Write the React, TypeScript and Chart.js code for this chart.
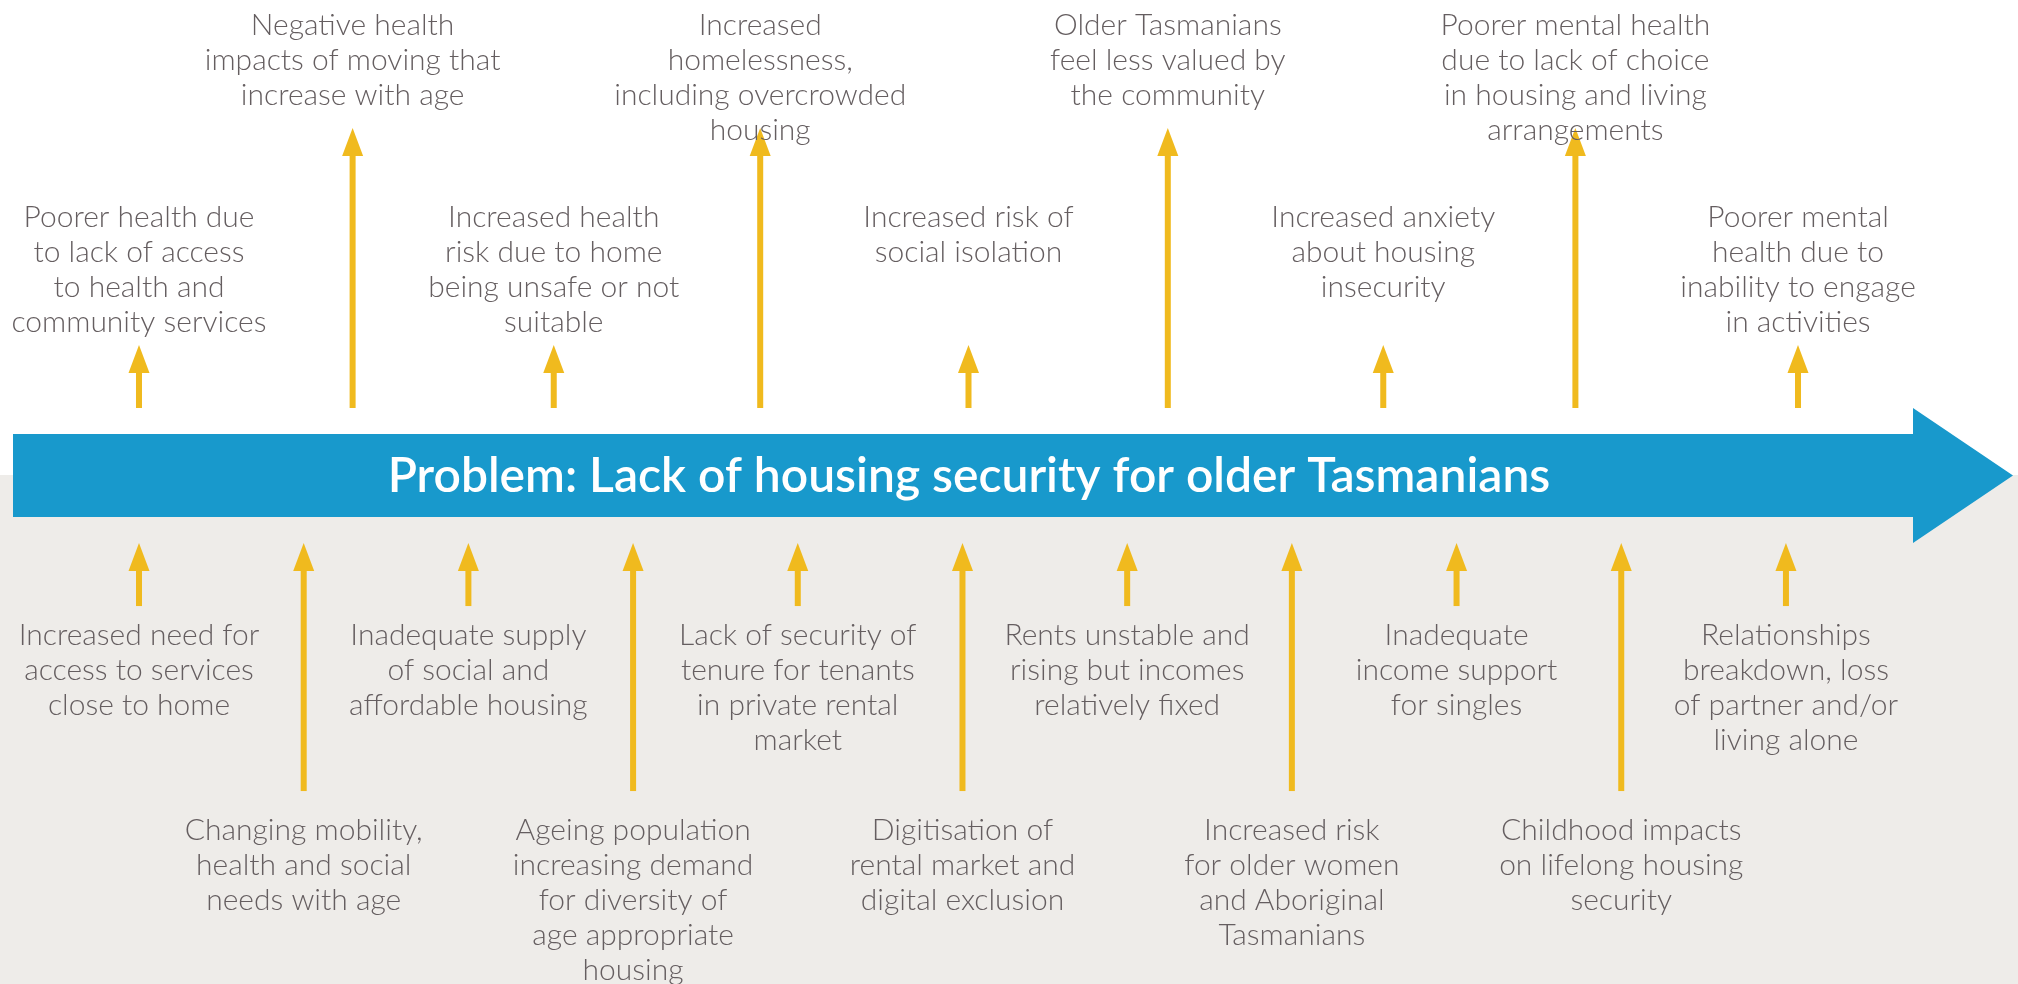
import React, { useEffect, useRef } from "react";
import { Chart, registerables } from "chart.js";

Chart.register(...registerables);

const TITLE = "Problem: Lack of housing security for older Tasmanians";

// Effects (above the problem arrow), left to right
const TOP_LABELS: string[][] = [
  ["Poorer health due", "to lack of access", "to health and", "community services"],
  ["Negative health", "impacts of moving that", "increase with age"],
  ["Increased health", "risk due to home", "being unsafe or not", "suitable"],
  ["Increased", "homelessness,", "including overcrowded", "housing"],
  ["Increased risk of", "social isolation"],
  ["Older Tasmanians", "feel less valued by", "the community"],
  ["Increased anxiety", "about housing", "insecurity"],
  ["Poorer mental health", "due to lack of choice", "in housing and living", "arrangements"],
  ["Poorer mental", "health due to", "inability to engage", "in activities"],
];
const TOP_TIERS = [1, 2, 1, 2, 1, 2, 1, 2, 1];

// Causes (below the problem arrow), left to right
const BOTTOM_LABELS: string[][] = [
  ["Increased need for", "access to services", "close to home"],
  ["Changing mobility,", "health and social", "needs with age"],
  ["Inadequate supply", "of social and", "affordable housing"],
  ["Ageing population", "increasing demand", "for diversity of", "age appropriate", "housing"],
  ["Lack of security of", "tenure for tenants", "in private rental", "market"],
  ["Digitisation of", "rental market and", "digital exclusion"],
  ["Rents unstable and", "rising but incomes", "relatively fixed"],
  ["Increased risk", "for older women", "and Aboriginal", "Tasmanians"],
  ["Inadequate", "income support", "for singles"],
  ["Childhood impacts", "on lifelong housing", "security"],
  ["Relationships", "breakdown, loss", "of partner and/or", "living alone"],
];
const BOTTOM_TIERS = [1, 2, 1, 2, 1, 2, 1, 2, 1, 2, 1];

const W = 2018;
const H = 984;

const BLUE = "#1899CC";
const YELLOW = "#F0BA1E";
const GREY_BG = "#EEECE9";
const TEXT = "#655E60";
const FONT = "300 30px Lato, 'Noto Sans', sans-serif";
const LINE_H = 35;

function drawArrow(ctx: CanvasRenderingContext2D, x: number, tipY: number, tailY: number) {
  const headH = 28;
  const headW = 21;
  const shaft = 6;
  ctx.fillStyle = YELLOW;
  ctx.fillRect(x - shaft / 2, tipY + headH - 1, shaft, tailY - (tipY + headH - 1));
  ctx.beginPath();
  ctx.moveTo(x, tipY);
  ctx.lineTo(x + headW / 2, tipY + headH);
  ctx.lineTo(x - headW / 2, tipY + headH);
  ctx.closePath();
  ctx.fill();
}

function drawLines(ctx: CanvasRenderingContext2D, lines: string[], x: number, firstY: number) {
  ctx.fillStyle = TEXT;
  ctx.font = FONT;
  ctx.textAlign = "center";
  ctx.textBaseline = "middle";
  lines.forEach((l, i) => ctx.fillText(l, x, firstY + i * LINE_H));
}

// split the top row by tier; each tier gets its own evenly spaced slots
function tierPoints(tiers: number[], tier: number) {
  const idx: number[] = [];
  tiers.forEach((t, i) => { if (t === tier) idx.push(i); });
  return idx;
}
const TOP_SHORT_IDX = tierPoints(TOP_TIERS, 1);
const TOP_LONG_IDX = tierPoints(TOP_TIERS, 2);

const diagramPlugin = {
  id: "problemTree",
  beforeDraw(chart: any) {
    const ctx: CanvasRenderingContext2D = chart.ctx;
    ctx.save();
    ctx.fillStyle = "#FFFFFF";
    ctx.fillRect(0, 0, W, H);
    ctx.fillStyle = GREY_BG;
    ctx.fillRect(0, 475, W, H - 475);
    // problem arrow
    ctx.fillStyle = BLUE;
    ctx.beginPath();
    ctx.moveTo(13, 434);
    ctx.lineTo(1913, 434);
    ctx.lineTo(1913, 408);
    ctx.lineTo(2013, 475.5);
    ctx.lineTo(1913, 543);
    ctx.lineTo(1913, 517);
    ctx.lineTo(13, 517);
    ctx.closePath();
    ctx.fill();
    ctx.fillStyle = "#FFFFFF";
    ctx.font = "600 48px Lato, 'Noto Sans', sans-serif";
    ctx.textAlign = "center";
    ctx.textBaseline = "middle";
    ctx.fillText(TITLE, 969, 477);
    ctx.restore();
  },
  afterDatasetsDraw(chart: any) {
    const ctx: CanvasRenderingContext2D = chart.ctx;
    ctx.save();
    [0, 1].forEach((di) => {
      const meta = chart.getDatasetMeta(di);
      const idxs = di === 0 ? TOP_SHORT_IDX : TOP_LONG_IDX;
      meta.data.forEach((pt: any, k: number) => {
        const i = idxs[k];
        const tier = TOP_TIERS[i];
        const tipY = pt.y;
        drawArrow(ctx, pt.x, tipY, 408);
        const firstY = tier === 2 ? tipY - 103 : tipY - 128;
        drawLines(ctx, TOP_LABELS[i], pt.x, firstY);
      });
    });
    const botMeta = chart.getDatasetMeta(2);
    botMeta.data.forEach((pt: any, i: number) => {
      const tier = BOTTOM_TIERS[i];
      const tailY = pt.y;
      drawArrow(ctx, pt.x, 543, tailY);
      const firstY = tier === 2 ? tailY + 39 : tailY + 29;
      drawLines(ctx, BOTTOM_LABELS[i], pt.x, firstY);
    });
    ctx.restore();
  },
};

export default function App() {
  const ref = useRef<HTMLCanvasElement | null>(null);
  useEffect(() => {
    document.body.style.margin = "0";
    const canvas = ref.current;
    if (!canvas) return;
    const chart = new Chart(canvas, {
      type: "scatter",
      data: {
        datasets: [
          {
            label: "Effects (near)",
            data: TOP_SHORT_IDX.map((i, k) => ({ x: k, y: TOP_TIERS[i] })),
            xAxisID: "xTopShort",
            yAxisID: "yTop",
            pointRadius: 0,
            showLine: false,
          },
          {
            label: "Effects (far)",
            data: TOP_LONG_IDX.map((i, k) => ({ x: k, y: TOP_TIERS[i] })),
            xAxisID: "xTopLong",
            yAxisID: "yTop",
            pointRadius: 0,
            showLine: false,
          },
          {
            label: "Causes",
            data: BOTTOM_LABELS.map((_, i) => ({ x: i, y: BOTTOM_TIERS[i] })),
            xAxisID: "xBot",
            yAxisID: "yBot",
            pointRadius: 0,
            showLine: false,
          },
        ],
      },
      options: {
        animation: false,
        responsive: false,
        maintainAspectRatio: false,
        layout: { padding: 0 },
        plugins: { legend: { display: false }, tooltip: { enabled: false }, title: { display: false } },
        scales: {
          xTopShort: { type: "linear", display: false, min: -0.3351, max: 4.5304 },
          xTopLong: { type: "linear", display: false, min: -0.8651, max: 4.0859 },
          xBot: { type: "linear", display: false, min: -0.844, max: 11.409 },
          yTop: { type: "linear", display: false, min: -1.945, max: 2.590 },
          yBot: { type: "linear", display: false, reverse: true, min: -2.276, max: 3.043 },
        },
      },
      plugins: [diagramPlugin],
    });
    return () => chart.destroy();
  }, []);
  return (
    <div style={{ width: W, height: H }}>
      <canvas ref={ref} width={W} height={H} style={{ display: "block" }} />
    </div>
  );
}
